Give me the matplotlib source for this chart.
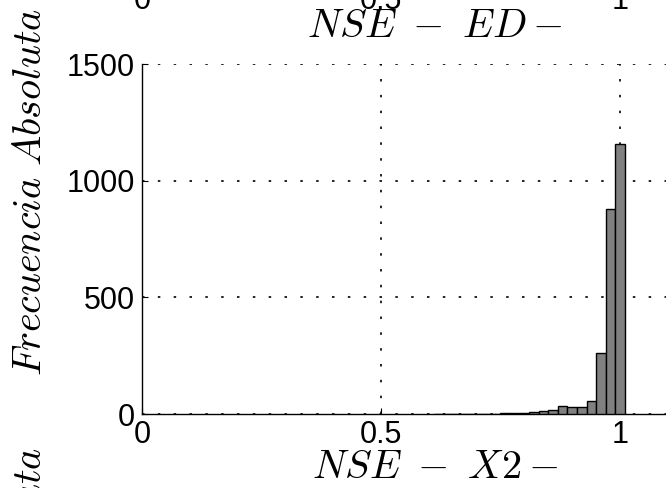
import matplotlib
matplotlib.use('Agg')
import matplotlib.pyplot as plt
import numpy as np

plt.rcParams['font.family'] = ['Liberation Sans', 'DejaVu Sans']
plt.rcParams['mathtext.fontset'] = 'cm'

# histogram of NSE values (bin centers, counts)
bin_centers = [0.62, 0.64, 0.66, 0.68, 0.70, 0.72, 0.74, 0.76, 0.78, 0.80,
               0.82, 0.84, 0.86, 0.88, 0.90, 0.92, 0.94, 0.96, 0.98, 1.00]
counts = [1, 1, 1, 1, 0, 2, 2, 3, 4, 4,
          10, 15, 19, 36, 28, 30, 55, 260, 878, 1158]
bin_width = 0.02

x_ticks = [0, 0.5, 1]
x_tick_labels = ['0', '0.5', '1']
y_ticks = [0, 500, 1000, 1500]
y_tick_labels = ['0', '500', '1000', '1500']

W, H = 666, 488
fig = plt.figure(figsize=(W / 100, H / 100), dpi=100)

ax_l, ax_r, ax_t, ax_b = 142, 728, 64, 414
px_per_unit = 478
ax = fig.add_axes([ax_l / W, 1 - ax_b / H, (ax_r - ax_l) / W, (ax_b - ax_t) / H])

ax.bar(bin_centers, counts, width=bin_width, color='#808080',
       edgecolor='black', linewidth=1.0, zorder=3)

ax.set_xlim(0, (ax_r - ax_l) / px_per_unit)
ax.set_ylim(0, 1500)
ax.set_xticks(x_ticks)
ax.set_xticklabels(x_tick_labels)
ax.set_yticks(y_ticks)
ax.set_yticklabels(y_tick_labels)
ax.tick_params(direction='in', length=4, labelsize=22, colors='black')
ax.tick_params(axis='y', pad=5)
ax.tick_params(axis='x', pad=4)

ax.grid(True, linestyle=(0, (1.5, 8)), color='black', linewidth=1.2, zorder=0)
ax.spines['top'].set_visible(False)
ax.spines['right'].set_visible(False)
ax.spines['left'].set_linewidth(1.0)
ax.spines['bottom'].set_linewidth(1.0)

title_x = 435 / W
fig.text(title_x, 1 - 37 / H, r'$NSE\ -\ ED-$', fontsize=29,
         ha='center', va='baseline')
fig.text(title_x, 1 - 478 / H, r'$NSE\ -\ X2-$', fontsize=29,
         ha='center', va='baseline')

fig.text(30 / W, 1 - 192 / H, r'$Frecuencia\ Absoluta$', fontsize=29,
         rotation=90, ha='center', va='center')

# neighbouring panels: tick labels above and y label below
for xv, lab in zip(x_ticks, x_tick_labels):
    fig.text((ax_l + xv * px_per_unit) / W, 1 - 9 / H, lab, fontsize=22,
             ha='center', va='baseline')
fig.text(30 / W, 1 - 447 / H, r'$Frecuencia\ Absoluta$', fontsize=29,
         rotation=90, ha='center', va='top')

fig.savefig('out.png', dpi=100)
